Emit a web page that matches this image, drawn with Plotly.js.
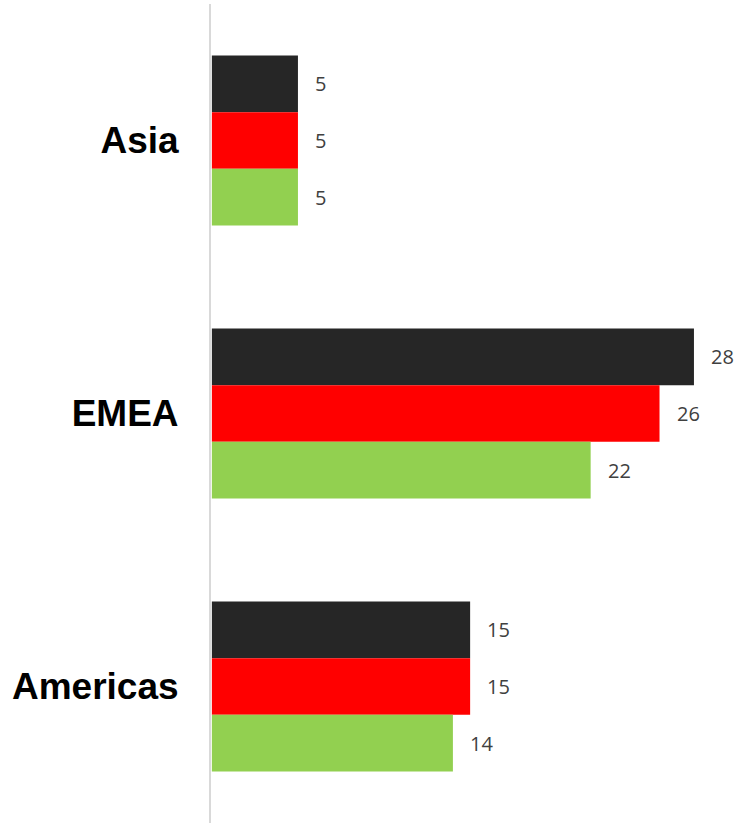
<!DOCTYPE html>
<html>
<head>
<meta charset="utf-8">
<script src="https://cdn.plot.ly/plotly-3.0.1.min.js"></script>
<style>html,body{margin:0;padding:0;background:#fff;}#chart{width:737px;height:823px;}</style>
</head>
<body>
<div id="chart"></div>
<script>
const categories = ["Asia", "EMEA", "Americas"];
const seriesNames = ["Series 1", "Series 2", "Series 3"];
const seriesBlack = [5, 28, 15];
const seriesRed = [5, 26, 15];
const seriesGreen = [5, 22, 14];
const colors = ["#262626", "#FF0000", "#92D050"];
const allSeries = [seriesBlack, seriesRed, seriesGreen];

const traces = allSeries.map((vals, i) => ({
  type: "bar",
  orientation: "h",
  name: seriesNames[i],
  y: categories,
  x: vals,
  marker: {color: colors[i], line: {width: 0}},
  hoverinfo: "x+y"
}));

// value labels, placed via data coordinates
const annotations = [];
allSeries.forEach((vals, i) => {
  vals.forEach((v, j) => {
    annotations.push({
      x: v, y: categories[j], xref: "x", yref: "y",
      text: String(v), showarrow: false,
      xanchor: "left", xshift: 15,
      yshift: (1 - i) * 56.8,
      font: {family: "Open Sans, sans-serif", size: 20, color: "#404040"}
    });
  });
});

const layout = {
  width: 737, height: 823,
  margin: {l: 211, r: 0, t: 4, b: 0},
  paper_bgcolor: "#fff", plot_bgcolor: "#fff",
  showlegend: false,
  barmode: "group",
  bargap: 0.377,
  bargroupgap: 0,
  xaxis: {range: [-0.05, 30.5], visible: false, showgrid: false, zeroline: false, fixedrange: true},
  yaxis: {
    type: "category",
    autorange: "reversed",
    showgrid: false, zeroline: false,
    showline: true, linecolor: "#D9D9D9", linewidth: 2,
    ticks: "outside", ticklen: 23, tickcolor: "rgba(0,0,0,0)",
    tickfont: {family: "Liberation Sans, Arial, sans-serif", size: 37, color: "#000", weight: "bold"}
  },
  annotations: annotations
};

Plotly.newPlot("chart", traces, layout, {displayModeBar: false, staticPlot: true});
</script>
</body>
</html>
